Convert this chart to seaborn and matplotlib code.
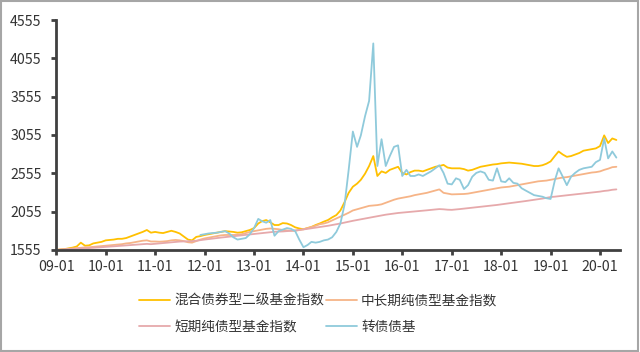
import numpy as np
import pandas as pd
import matplotlib
matplotlib.use("Agg")
import matplotlib.pyplot as plt
import matplotlib.dates as mdates
from matplotlib.patches import Rectangle
import seaborn as sns

# ---------------- data (monthly) ----------------
series_names = ["混合债券型二级基金指数", "中长期纯债型基金指数", "短期纯债型基金指数", "转债债基"]

mixed_bond2 = [
    1555, 1560, 1565, 1575, 1585, 1600, 1650, 1610, 1615, 1640, 1650, 1660,   # 2009
    1680, 1685, 1690, 1700, 1700, 1710, 1730, 1750, 1770, 1790, 1815, 1780,   # 2010
    1790, 1780, 1775, 1790, 1805, 1790, 1770, 1730, 1690, 1680, 1725, 1735,   # 2011
    1750, 1760, 1770, 1780, 1790, 1800, 1795, 1790, 1780, 1785, 1800, 1815,   # 2012
    1840, 1900, 1930, 1945, 1915, 1880, 1880, 1905, 1900, 1880, 1850, 1835,   # 2013
    1825, 1840, 1855, 1880, 1900, 1925, 1945, 1980, 2010, 2070, 2180, 2300,   # 2014
    2380, 2420, 2470, 2550, 2650, 2780, 2520, 2580, 2560, 2600, 2620, 2640,   # 2015
    2560, 2540, 2570, 2590, 2590, 2580, 2600, 2620, 2640, 2650, 2665, 2630,   # 2016
    2620, 2620, 2620, 2610, 2590, 2600, 2620, 2640, 2650, 2660, 2670, 2675,   # 2017
    2685, 2690, 2695, 2690, 2685, 2680, 2670, 2660, 2650, 2650, 2660, 2680,   # 2018
    2710, 2780, 2840, 2800, 2770, 2780, 2800, 2820, 2850, 2860, 2870, 2880,   # 2019
    2910, 3050, 2950, 3010, 2990,                                             # 2020
]

mid_long_pure = [
    1555, 1560, 1565, 1570, 1575, 1580, 1585, 1588, 1590, 1595, 1600, 1605,
    1610, 1615, 1620, 1625, 1630, 1640, 1645, 1655, 1665, 1675, 1680, 1665,
    1665, 1662, 1665, 1670, 1680, 1685, 1680, 1670, 1655, 1650, 1670, 1690,
    1705, 1715, 1725, 1735, 1745, 1750, 1750, 1750, 1755, 1760, 1775, 1790,
    1800, 1810, 1820, 1830, 1835, 1830, 1825, 1815, 1810, 1805, 1805, 1815,
    1825, 1840, 1855, 1870, 1890, 1900, 1915, 1940, 1965, 1990, 2015, 2040,
    2070, 2085, 2100, 2115, 2130, 2135, 2140, 2150, 2170, 2190, 2210, 2225,
    2235, 2245, 2255, 2270, 2280, 2290, 2300, 2315, 2330, 2345, 2300, 2290,
    2280, 2282, 2285, 2285, 2290, 2300, 2310, 2320, 2330, 2340, 2350, 2360,
    2370, 2375, 2380, 2390, 2400, 2410, 2420, 2430, 2440, 2450, 2455, 2460,
    2470, 2480, 2490, 2500, 2505, 2515, 2525, 2535, 2545, 2555, 2565, 2570,
    2580, 2600, 2615, 2635, 2640,
]

short_pure = [
    1555, 1558, 1560, 1563, 1566, 1570, 1573, 1576, 1580, 1583, 1587, 1590,
    1595, 1598, 1602, 1606, 1610, 1614, 1618, 1622, 1626, 1630, 1634, 1630,
    1635, 1640, 1645, 1650, 1655, 1660, 1664, 1666, 1668, 1670, 1675, 1683,
    1690, 1697, 1703, 1710, 1716, 1722, 1728, 1734, 1740, 1746, 1752, 1758,
    1764, 1770, 1776, 1782, 1788, 1792, 1794, 1796, 1800, 1805, 1810, 1815,
    1822, 1830, 1838, 1846, 1854, 1862, 1870, 1880, 1890, 1900, 1912, 1925,
    1935, 1945, 1955, 1965, 1975, 1985, 1995, 2005, 2015, 2022, 2030, 2037,
    2042, 2047, 2052, 2057, 2062, 2067, 2072, 2078, 2083, 2088, 2085, 2080,
    2078, 2083, 2088, 2094, 2100, 2106, 2112, 2118, 2124, 2130, 2136, 2142,
    2150, 2157, 2164, 2171, 2178, 2185, 2193, 2201, 2209, 2217, 2225, 2235,
    2245, 2250, 2256, 2262, 2268, 2274, 2280, 2286, 2292, 2298, 2304, 2310,
    2316, 2325, 2330, 2340, 2345,
]

convertible = [
    1750,                                                                     # 2011-12
    1760, 1770, 1775, 1780, 1790, 1800, 1770, 1720, 1690, 1700, 1710, 1760,   # 2012
    1840, 1960, 1930, 1910, 1945, 1740, 1800, 1820, 1840, 1830, 1800, 1690,   # 2013
    1590, 1620, 1660, 1650, 1660, 1680, 1690, 1720, 1790, 1900, 2150, 2600,   # 2014
    3100, 2900, 3050, 3300, 3500, 4250, 2650, 3000, 2650, 2780, 2900, 2920,   # 2015
    2520, 2600, 2520, 2520, 2540, 2520, 2550, 2580, 2620, 2660, 2560, 2420,   # 2016
    2410, 2490, 2470, 2350, 2400, 2510, 2560, 2580, 2560, 2470, 2460, 2620,   # 2017
    2450, 2440, 2490, 2430, 2420, 2360, 2330, 2300, 2270, 2260, 2250, 2230,   # 2018
    2220, 2460, 2620, 2510, 2400, 2510, 2560, 2600, 2620, 2630, 2640, 2700,   # 2019
    2730, 3010, 2750, 2840, 2760,                                             # 2020
]

dates_full = pd.date_range("2009-01-01", periods=len(mixed_bond2), freq="MS")
dates_cb = pd.date_range("2011-12-01", periods=len(convertible), freq="MS")

y_ticks = [1555, 2055, 2555, 3055, 3555, 4055, 4555]
x_tick_years = list(range(2009, 2021))

colors = ["#FFC000", "#F6B487", "#E6A9AB", "#8FCADB"]

# ---------------- build long table ----------------
frames = []
for name, vals, dts in [
    (series_names[0], mixed_bond2, dates_full),
    (series_names[1], mid_long_pure, dates_full),
    (series_names[2], short_pure, dates_full),
    (series_names[3], convertible, dates_cb),
]:
    frames.append(pd.DataFrame({"date": dts, "value": vals, "series": name}))
df = pd.concat(frames, ignore_index=True)

# ---------------- plot ----------------
sns.set_style("ticks")
plt.rcParams["font.family"] = ["Noto Sans CJK SC", "DejaVu Sans"]

fig = plt.figure(figsize=(6.4, 3.52), dpi=100)
ax = fig.add_axes([0.088, 0.29, 0.881, 0.653])

sns.lineplot(data=df, x="date", y="value", hue="series", hue_order=series_names,
             palette=colors, linewidth=1.3, ax=ax, legend=False)

ax.set_xlim(pd.Timestamp("2009-01-01"), pd.Timestamp("2020-05-29"))
ax.set_ylim(1555, 4555)
ax.set_yticks(y_ticks)
ax.set_yticklabels([str(v) for v in y_ticks])
ax.set_xticks([pd.Timestamp(f"{y}-01-01") for y in x_tick_years])
ax.xaxis.set_major_formatter(mdates.DateFormatter("%y-%m"))
ax.set_xlabel("")
ax.set_ylabel("")

for s in ["top", "right"]:
    ax.spines[s].set_visible(False)
for s in ["left", "bottom"]:
    ax.spines[s].set_color("#404040")
    ax.spines[s].set_linewidth(2.0)
ax.tick_params(axis="both", direction="out", length=3.5, width=2.0, color="#404040",
               labelsize=10.2, labelcolor="#333333")
ax.tick_params(axis="y", pad=7)
ax.tick_params(axis="x", pad=4)

# legend filled column-wise: row 1 = series 0, 1 ; row 2 = series 2, 3
order = [0, 2, 1, 3]
handles = [plt.Line2D([], [], color=colors[i], lw=1.3) for i in order]
labels = [series_names[i] for i in order]
leg = fig.legend(handles, labels, loc="center", bbox_to_anchor=(0.497, 0.108),
                 ncol=2, frameon=False, fontsize=9.8, handlelength=2.3,
                 handletextpad=0.3, columnspacing=0.1, labelspacing=0.9)
for t in leg.get_texts():
    t.set_color("#333333")

fig.patches.append(Rectangle((0.002, 0.003), 0.995, 0.994, transform=fig.transFigure,
                             fill=False, edgecolor="#A6A6A6", linewidth=1.5))

fig.savefig("out.png", dpi=100)
